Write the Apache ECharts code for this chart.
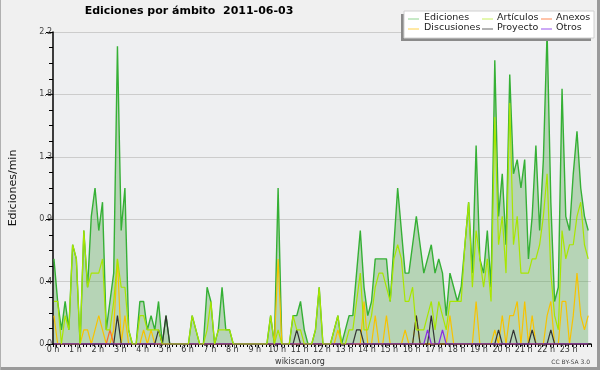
<!DOCTYPE html>
<html><head><meta charset="utf-8">
<script src="https://cdn.jsdelivr.net/npm/echarts@6/dist/echarts.min.js"></script>
<style>html,body{margin:0;padding:0;background:#f0f0f0}#c{width:600px;height:370px}</style>
</head><body><div id="c"></div><script>
// 10-minute slots of the day (hours)
const slots = Array.from({length:144}, (_, i) => (i + 0.25) / 6);
const yTicks = ['0.0','0.4','0.9','1.3','1.8','2.2'];
const ediciones = [
0.6,0.3,0.1,0.3,0.1,0.7,0.6,0.0,0.8,0.4,
0.9,1.1,0.8,1.0,0.1,0.3,0.5,2.1,0.8,1.1,
0.1,0,0,0.3,0.3,0.1,0.2,0.1,0.3,0,
0.2,0,0,0,0,0,0,0.2,0.1,0,
0,0.4,0.3,0,0.1,0.4,0.1,0.1,0,0,
0,0,0,0,0,0,0,0,0.2,0,
1.1,0,0,0,0.2,0.2,0.3,0.1,0,0,
0.1,0.4,0,0,0,0.1,0.2,0,0.1,0.2,
0.2,0.5,0.8,0.4,0.2,0.3,0.6,0.6,0.6,0.6,
0.3,0.7,1.1,0.8,0.5,0.5,0.7,0.9,0.7,0.5,
0.6,0.7,0.5,0.6,0.5,0.2,0.5,0.4,0.3,0.4,
0.7,1.0,0.5,1.4,0.6,0.5,0.8,0.4,2.0,0.9,
1.2,0.7,1.9,1.2,1.3,1.1,1.3,0.6,0.9,1.4,
0.8,1.3,2.2,1.0,0.3,0.4,1.8,0.9,0.8,1.2,
1.5,1.1,0.9,0.8];
const articulos = [
0.3,0.3,0,0.2,0.1,0.7,0.6,0,0.8,0.4,
0.5,0.5,0.5,0.6,0.1,0.1,0.3,0.6,0.4,0.4,
0.1,0,0,0.2,0.2,0.1,0.1,0.1,0.1,0,
0,0,0,0,0,0,0,0.2,0.1,0,
0,0.1,0.3,0,0.1,0.1,0.1,0.1,0,0,
0,0,0,0,0,0,0,0,0.2,0,
0.1,0,0,0,0.2,0.1,0.1,0,0,0,
0.1,0.4,0,0,0,0.1,0.2,0,0,0.1,
0.1,0.3,0.5,0.1,0.1,0.2,0.4,0.5,0.5,0.4,
0.3,0.6,0.7,0.6,0.3,0.3,0.4,0.1,0.1,0.1,
0.2,0.3,0.1,0.3,0.2,0.1,0.3,0.3,0.3,0.3,
0.7,1.0,0.4,0.8,0.6,0.4,0.6,0.3,1.6,0.7,
0.9,0.5,1.7,0.7,0.9,0.5,0.5,0.5,0.6,0.6,
0.7,0.9,1.2,0.5,0.2,0.1,0.8,0.6,0.7,0.7,
0.9,1.0,0.7,0.6];
const discusiones = [
0.2,0,0,0,0,0,0,0,0.1,0.1,
0,0.1,0.2,0.1,0,0,0.1,0.6,0,0.2,
0,0,0,0,0.1,0,0.1,0,0,0,
0,0,0,0,0,0,0,0,0,0,
0,0,0,0,0,0,0,0,0,0,
0,0,0,0,0,0,0,0,0,0,
0.6,0,0,0,0,0,0,0,0,0,
0,0,0,0,0,0,0.1,0,0,0,
0,0,0,0.3,0,0,0.2,0,0,0.2,
0,0,0,0,0.1,0,0,0.2,0,0,
0,0,0,0,0,0,0.2,0,0,0,
0,0,0,0.3,0,0,0,0,0.1,0,
0.2,0,0.2,0.2,0.3,0,0.3,0,0.2,0,
0,0,0.2,0.3,0,0,0.3,0.3,0,0.2,
0.5,0.2,0.1,0.2];
const anexos = [
0,0,0,0,0,0,0,0,0,0,
0,0,0,0,0,0.1,0,0,0,0,
0,0,0,0,0,0,0,0,0,0,
0,0,0,0,0,0,0,0,0,0,
0,0,0,0,0,0,0,0,0,0,
0,0,0,0,0,0,0,0,0,0,
0,0,0,0,0,0,0,0,0,0,
0,0,0,0,0,0,0,0,0,0,
0,0,0,0,0,0,0,0,0,0,
0,0,0,0,0,0,0,0,0,0,
0,0,0,0,0,0,0,0,0,0,
0,0,0,0,0,0,0,0,0,0,
0,0,0,0,0,0,0,0,0,0,
0,0,0,0,0,0,0,0,0,0,
0,0,0,0];
const proyecto = [
0,0,0,0,0,0,0,0,0,0,
0,0,0,0,0,0,0,0.2,0,0,
0,0,0,0,0,0,0,0,0.1,0,
0.2,0,0,0,0,0,0,0,0,0,
0,0,0,0,0,0,0,0,0,0,
0,0,0,0,0,0,0,0,0,0,
0,0,0,0,0,0.1,0,0,0,0,
0,0,0,0,0,0,0,0,0,0,
0,0.1,0.1,0,0,0,0,0,0,0,
0,0,0,0,0,0,0,0.2,0,0,
0,0.2,0,0,0,0,0,0,0,0,
0,0,0,0,0,0,0,0,0,0.1,
0,0,0,0.1,0,0,0,0,0.1,0,
0,0,0,0.1,0,0,0,0,0,0,
0,0,0,0];
const otros = [
0,0,0,0,0,0,0,0,0,0,
0,0,0,0,0,0,0,0,0,0,
0,0,0,0,0,0,0,0,0,0,
0,0,0,0,0,0,0,0,0,0,
0,0,0,0,0,0,0,0,0,0,
0,0,0,0,0,0,0,0,0,0,
0,0,0,0,0,0,0,0,0,0,
0,0,0,0,0,0,0,0,0,0,
0,0,0,0,0,0,0,0,0,0,
0,0,0,0,0,0,0,0,0,0,
0.1,0,0,0,0.1,0,0,0,0,0,
0,0,0,0,0,0,0,0,0,0,
0,0,0,0,0,0,0,0,0,0,
0,0,0,0,0,0,0,0,0,0,
0,0,0,0];

const colors = {Ediciones:'#35b035', 'Artículos':'#a8e600', Anexos:'#ff6a2a', Discusiones:'#f7c300', Proyecto:'#333333', Otros:'#8a2be2'};
const legendColors = {Ediciones:'#8fd48f', 'Artículos':'#c8f060', Anexos:'#ff8855', Discusiones:'#ffd24a', Proyecto:'#666666', Otros:'#9955ee'};
const seriesData = {Ediciones:ediciones, 'Artículos':articulos, Anexos:anexos, Discusiones:discusiones, Proyecto:proyecto, Otros:otros};
const pair = arr => arr.map((v, i) => [slots[i], v]);

const chart = echarts.init(document.getElementById('c'), null, {renderer:'canvas'});
const FONT = 'DejaVu Sans';

const series = [];
series.push({
  name:'Ediciones', type:'line', data: pair(ediciones), symbol:'none', z:2,
  lineStyle:{color:colors.Ediciones, width:1.4},
  areaStyle:{color:'rgba(78,163,75,0.5)'}
});
['Discusiones','Anexos','Proyecto','Otros','Artículos'].forEach((n, k) => {
  series.push({name:n, type:'line', data: pair(seriesData[n]), symbol:'none', z:3+k,
    lineStyle:{color:colors[n], width:1.2}});
});

const lg = [];
const lx0 = 404, ly0 = 11, lw = 190, lh = 27;
lg.push({type:'rect', shape:{x:lx0-3, y:ly0+3, width:lw, height:lh}, style:{fill:'#8a8a8a'}, z:100});
lg.push({type:'rect', shape:{x:lx0, y:ly0, width:lw, height:lh}, style:{fill:'#ffffff', stroke:'#d0d0d0', lineWidth:1}, z:101});
const cols = [[408, 424],[482, 497],[541, 556]];
const rows = [[19, 23],[29, 33]];
const order = [['Ediciones','Artículos','Anexos'],['Discusiones','Proyecto','Otros']];
order.forEach((row, r) => row.forEach((n, c) => {
  lg.push({type:'line', shape:{x1:cols[c][0], y1:rows[r][0], x2:cols[c][0]+11, y2:rows[r][0]}, style:{stroke:legendColors[n], lineWidth:1}, z:102});
  lg.push({type:'text', x:cols[c][1], y:rows[r][1], style:{text:n, font:'9.5px '+FONT, fill:'#222', textVerticalAlign:'bottom'}, z:102});
}));

chart.setOption({
  backgroundColor:'#f0f0f0',
  animation:false,
  grid:{left:46, right:9, top:32, bottom:26, show:true, backgroundColor:'#eeeff1', borderWidth:0},
  xAxis:{type:'value', min:0, max:24, interval:1,
    axisLine:{lineStyle:{color:'#000', width:1.5}},
    axisTick:{show:true, length:3, lineStyle:{color:'#000'}},
    minorTick:{show:true, splitNumber:6, length:3, lineStyle:{color:'#000'}},
    splitLine:{show:false},
    axisLabel:{fontFamily:FONT, fontSize:8, color:'#333', margin:2, formatter:v => v < 24 ? v + ' h' : ''}},
  yAxis:{type:'value', min:0, max:2.2, interval:0.44,
    name:'Ediciones/min', nameLocation:'middle', nameGap:34, nameRotate:90,
    nameTextStyle:{fontFamily:FONT, fontSize:11, color:'#111'},
    axisLine:{show:true, lineStyle:{color:'#000', width:1.5}},
    axisTick:{show:true, length:7, lineStyle:{color:'#000'}},
    minorTick:{show:true, splitNumber:4, length:4, lineStyle:{color:'#000'}},
    splitLine:{show:true, lineStyle:{color:'#cccccc', width:1}},
    axisLabel:{fontFamily:FONT, fontSize:8, color:'#444', margin:1,
      formatter:v => yTicks[Math.round(v / 0.44)]}},
  series: series,
  graphic: [
    {type:'text', x:189, y:17, style:{text:'Ediciones por ámbito  2011-06-03', font:'bold 11px '+FONT, fill:'#000', textAlign:'center', textVerticalAlign:'bottom'}},
    {type:'text', x:300, y:366, style:{text:'wikiscan.org', font:'8px '+FONT, fill:'#333', textAlign:'center', textVerticalAlign:'bottom'}},
    {type:'text', x:590, y:365, style:{text:'CC BY-SA 3.0', font:'6px '+FONT, fill:'#444', textAlign:'right', textVerticalAlign:'bottom'}},
    {type:'rect', shape:{x:597, y:0, width:3, height:370}, style:{fill:'#9a9a9a'}},
    {type:'rect', shape:{x:0, y:367, width:600, height:3}, style:{fill:'#9a9a9a'}},
    {type:'rect', shape:{x:0, y:0, width:1, height:370}, style:{fill:'#b0b0b0'}},
    ...lg
  ]
});
</script></body></html>
